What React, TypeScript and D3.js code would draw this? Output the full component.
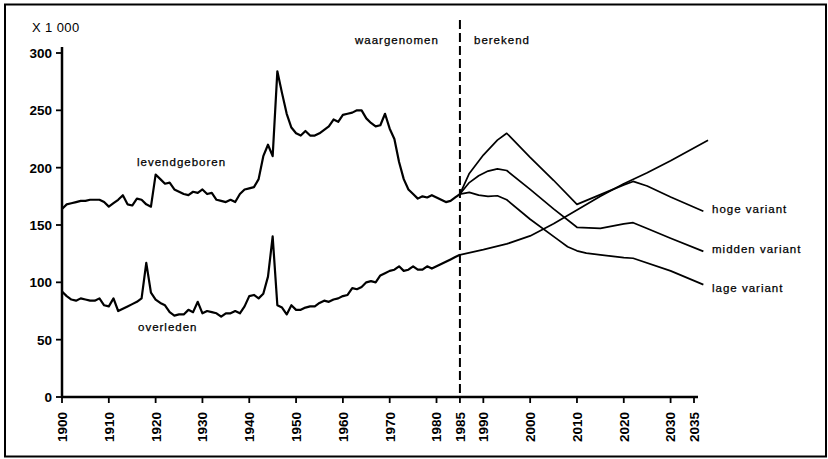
import React, { useRef, useEffect } from 'react';
import * as d3 from 'd3';

// Levend geborenen en overledenen, x 1000 (waargenomen 1900-1985)
const observedYears = d3.range(1900, 1986);
const births = [
  164, 168, 169, 170, 171, 171, 172, 172, 172, 170,
  166, 169, 172, 176, 168, 167, 173, 172, 168, 166,
  194, 190, 186, 187, 181, 179, 177, 176, 179, 178,
  181, 177, 178, 172, 171, 170, 172, 170, 177, 181,
  182, 183, 190, 210, 220, 210, 284, 265, 247, 235,
  230, 228, 232, 228, 228, 230, 233, 236, 242, 240,
  246, 247, 248, 250, 250, 243, 239, 236, 237, 247,
  234, 225, 205, 190, 181, 177, 173, 175, 174, 176,
  174, 172, 170, 171, 174, 177,
];
const deaths = [
  92, 88, 85, 84, 86, 85, 84, 84, 86, 80,
  79, 86, 75, 77, 79, 81, 83, 86, 117, 91,
  85, 82, 80, 74, 71, 72, 72, 76, 74, 83,
  73, 75, 74, 73, 70, 73, 73, 75, 73, 79,
  88, 89, 86, 90, 105, 140, 80, 78, 72, 80,
  76, 76, 78, 79, 79, 82, 84, 83, 85, 86,
  88, 89, 95, 94, 96, 100, 101, 100, 106, 108,
  110, 111, 114, 110, 111, 114, 111, 111, 114, 112,
  114, 116, 118, 120, 122, 124,
];

// Berekend (prognose)
const hogeYears = [1985, 1987, 1990, 1993, 1995, 2000, 2005, 2010, 2015, 2020, 2022, 2025, 2030, 2037];
const hoge = [177, 195, 211, 224, 230, 209, 189, 168, 176.5, 185, 188, 184, 174.5, 162];
const middenYears = [1985, 1987, 1989, 1991, 1993, 1995, 2000, 2005, 2010, 2015, 2020, 2022, 2025, 2030, 2037];
const midden = [177, 187, 193, 197, 199, 197.5, 181, 164, 148, 147, 151, 152, 147, 138.5, 127];
const lageYears = [1985, 1987, 1989, 1991, 1993, 1995, 2000, 2006, 2008, 2010, 2012, 2015, 2020, 2022, 2030, 2037];
const lage = [177, 178.5, 176, 175, 175.5, 172, 155, 137, 131, 127.5, 125.5, 124, 121.5, 121, 110, 98];
const deathsProjYears = [1985, 1990, 1995, 2000, 2005, 2010, 2015, 2020, 2025, 2030, 2038];
const deathsProj = [124, 128.5, 133.5, 140.5, 151, 163, 175, 186, 195.5, 206, 224];

const yTicks = [0, 50, 100, 150, 200, 250, 300];
const xTicks = [1900, 1910, 1920, 1930, 1940, 1950, 1960, 1970, 1980, 1985, 1990, 2000, 2010, 2020, 2030, 2035];

const FONT = '"Liberation Sans", Arial, Helvetica, sans-serif';

const App = () => {
  const svgRef = useRef<SVGSVGElement | null>(null);

  useEffect(() => {
    if (!svgRef.current) return;
    const svg = d3.select(svgRef.current);
    svg.selectAll('*').remove();

    const x = d3.scaleLinear().domain([1900, 2035]).range([62, 694]);
    const y = d3.scaleLinear().domain([0, 300]).range([397, 53]);

    // frame
    svg.append('rect')
      .attr('x', 5).attr('y', 4.5)
      .attr('width', 821).attr('height', 452)
      .attr('fill', 'none').attr('stroke', '#000').attr('stroke-width', 2);

    const g = svg.append('g').attr('font-family', FONT).attr('fill', '#000');

    // axes
    g.append('line')
      .attr('x1', x(1900)).attr('x2', x(1900))
      .attr('y1', y(300) - 6).attr('y2', y(0) + 1)
      .attr('stroke', '#000').attr('stroke-width', 2.5);
    g.append('line')
      .attr('x1', x(1900) - 1).attr('x2', x(2035) + 4)
      .attr('y1', y(0)).attr('y2', y(0))
      .attr('stroke', '#000').attr('stroke-width', 2.5);

    yTicks.forEach(t => {
      g.append('line')
        .attr('x1', x(1900) - 6).attr('x2', x(1900))
        .attr('y1', y(t)).attr('y2', y(t))
        .attr('stroke', '#000').attr('stroke-width', 1.8);
      g.append('text')
        .attr('x', 52).attr('y', y(t))
        .attr('dy', '0.36em')
        .attr('text-anchor', 'end')
        .attr('font-size', 13.5).attr('font-weight', 'bold')
        .text(t);
    });

    xTicks.forEach(t => {
      g.append('line')
        .attr('x1', x(t)).attr('x2', x(t))
        .attr('y1', y(0)).attr('y2', y(0) + 6)
        .attr('stroke', '#000').attr('stroke-width', 1.8);
      g.append('text')
        .attr('transform', `translate(${x(t)},${y(0)}) rotate(-90)`)
        .attr('x', -15).attr('y', 0)
        .attr('dy', '0.36em')
        .attr('text-anchor', 'end')
        .attr('font-size', 13.5).attr('font-weight', 'bold')
        .text(t);
    });

    g.append('text')
      .attr('x', 32).attr('y', 32)
      .attr('font-size', 13).attr('letter-spacing', 0.4)
      .text('X 1 000');

    // 1985 divider
    g.append('line')
      .attr('x1', x(1985)).attr('x2', x(1985))
      .attr('y1', 20).attr('y2', y(0))
      .attr('stroke', '#000').attr('stroke-width', 2)
      .attr('stroke-dasharray', '9,4');

    const line = d3.line<[number, number]>()
      .x(d => x(d[0]))
      .y(d => y(d[1]));

    const series = [
      { years: observedYears, values: births, w: 2.2 },
      { years: observedYears, values: deaths, w: 2.2 },
      { years: hogeYears, values: hoge, w: 1.7 },
      { years: middenYears, values: midden, w: 1.7 },
      { years: lageYears, values: lage, w: 1.7 },
      { years: deathsProjYears, values: deathsProj, w: 1.7 },
    ];

    series.forEach(s => {
      g.append('path')
        .attr('d', line(s.years.map((yr, i) => [yr, s.values[i]] as [number, number])))
        .attr('fill', 'none')
        .attr('stroke', '#000')
        .attr('stroke-width', s.w)
        .attr('stroke-linejoin', 'round');
    });

    const labels = [
      { text: 'levendgeboren', x: 137, y: 166 },
      { text: 'overleden', x: 138, y: 331 },
      { text: 'waargenomen', x: 355, y: 44 },
      { text: 'berekend', x: 474, y: 44 },
      { text: 'hoge variant', x: 712, y: 213 },
      { text: 'midden variant', x: 712, y: 253 },
      { text: 'lage variant', x: 712, y: 292 },
    ];
    labels.forEach(l => {
      g.append('text')
        .attr('x', l.x).attr('y', l.y)
        .attr('font-size', 11.5)
        .attr('letter-spacing', 1)
        .attr('stroke', '#000').attr('stroke-width', 0.25)
        .text(l.text);
    });
  }, []);

  return (
    <svg
      ref={svgRef}
      width={828}
      height={459}
      style={{ position: 'absolute', left: 0, top: 0, background: '#fff' }}
    />
  );
};

export default App;
